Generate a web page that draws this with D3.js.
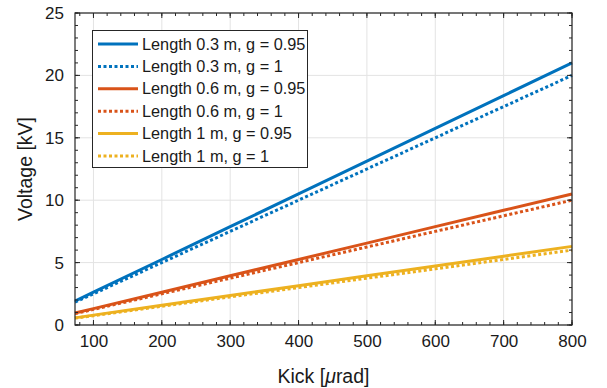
<!DOCTYPE html>
<html><head><meta charset="utf-8">
<script src="https://cdn.jsdelivr.net/npm/d3@7"></script>
<style>body{margin:0;background:#fff}svg{display:block}text{font-family:"Liberation Sans",Arial,sans-serif}</style>
</head><body><svg id="c" width="607" height="388"></svg>
<script>
const kick = [73, 100, 200, 300, 400, 500, 600, 700, 800];
const v03_095 = [1.92, 2.63, 5.25, 7.88, 10.5, 13.13, 15.75, 18.38, 21.0];
const v03_1   = [1.83, 2.5, 5.0, 7.5, 10.0, 12.5, 15.0, 17.5, 20.0];
const v06_095 = [0.96, 1.31, 2.63, 3.94, 5.25, 6.56, 7.88, 9.19, 10.5];
const v06_1   = [0.91, 1.25, 2.5, 3.75, 5.0, 6.25, 7.5, 8.75, 10.0];
const v1_095  = [0.57, 0.79, 1.58, 2.36, 3.15, 3.94, 4.73, 5.51, 6.3];
const v1_1    = [0.55, 0.75, 1.5, 2.25, 3.0, 3.75, 4.5, 5.25, 6.0];
const seriesNames = ["Length 0.3 m, g = 0.95","Length 0.3 m, g = 1","Length 0.6 m, g = 0.95","Length 0.6 m, g = 1","Length 1 m, g = 0.95","Length 1 m, g = 1"];
const seriesValues = [v03_095, v03_1, v06_095, v06_1, v1_095, v1_1];
const colors = ["#0072BD","#0072BD","#D95319","#D95319","#EDB120","#EDB120"];
const dotted = [false,true,false,true,false,true];
const xTicks = [100,200,300,400,500,600,700,800];
const yTicks = [0,5,10,15,20,25];

const svg = d3.select("#c");
const L=75, R=572, T=13, B=325;
const x = d3.scaleLinear().domain([73,800]).range([L,R]);
const y = d3.scaleLinear().domain([0,25]).range([B,T]);

// grid
const g = svg.append("g");
g.selectAll(".gx").data(xTicks).enter().append("line")
 .attr("x1",d=>x(d)).attr("x2",d=>x(d)).attr("y1",T).attr("y2",B)
 .attr("stroke","#e3e3e3").attr("stroke-width",1);
g.selectAll(".gy").data(yTicks).enter().append("line")
 .attr("x1",L).attr("x2",R).attr("y1",d=>y(d)).attr("y2",d=>y(d))
 .attr("stroke","#e3e3e3").attr("stroke-width",1);

// lines
const line = d3.line().x((d,i)=>x(kick[i])).y(d=>y(d));
const plot = svg.append("g");
seriesValues.forEach((vals,i)=>{
  plot.append("path").datum(vals).attr("d",line).attr("fill","none")
   .attr("stroke",colors[i]).attr("stroke-width",3)
   .attr("stroke-dasharray",dotted[i]?"3,2.5":null);
});

// axes
const minorX = d3.range(80,801,20);
const minorY = d3.range(0,26,1);
const ax = svg.append("g").attr("stroke","#262626");
function tickLinesX(vals,len){
  vals.forEach(v=>{
    ax.append("line").attr("x1",x(v)).attr("x2",x(v)).attr("y1",B).attr("y2",B-len);
    ax.append("line").attr("x1",x(v)).attr("x2",x(v)).attr("y1",T).attr("y2",T+len);
  });
}
function tickLinesY(vals,len){
  vals.forEach(v=>{
    ax.append("line").attr("x1",L).attr("x2",L+len).attr("y1",y(v)).attr("y2",y(v));
    ax.append("line").attr("x1",R).attr("x2",R-len).attr("y1",y(v)).attr("y2",y(v));
  });
}
tickLinesX(minorX,3); tickLinesX(xTicks,5);
tickLinesY(minorY,3); tickLinesY(yTicks,5);
svg.append("rect").attr("x",L).attr("y",T).attr("width",R-L).attr("height",B-T)
 .attr("fill","none").attr("stroke","#262626").attr("stroke-width",1.2);

// tick labels via d3 axes (lines hidden)
const xa = svg.append("g").attr("transform",`translate(0,${B})`)
 .call(d3.axisBottom(x).tickValues(xTicks).tickSize(0).tickPadding(10));
xa.select(".domain").remove();
xa.selectAll("text").attr("font-size",17).attr("fill","#1a1a1a").attr("font-family","Liberation Sans, Arial, sans-serif");
const ya = svg.append("g").attr("transform",`translate(${L},0)`)
 .call(d3.axisLeft(y).tickValues(yTicks).tickSize(0).tickPadding(11));
ya.select(".domain").remove();
ya.selectAll("text").attr("font-size",17).attr("fill","#1a1a1a").attr("font-family","Liberation Sans, Arial, sans-serif");

// axis titles
const xt = svg.append("text").attr("x",(L+R)/2).attr("y",383).attr("text-anchor","middle")
 .attr("font-size",19.5).attr("fill","#1a1a1a");
xt.append("tspan").text("Kick [");
xt.append("tspan").attr("font-style","italic").text("\u03bc");
xt.append("tspan").text("rad]");
svg.append("text").attr("transform",`translate(32,${(T+B)/2}) rotate(-90)`).attr("text-anchor","middle")
 .attr("font-size",19.5).attr("fill","#1a1a1a").text("Voltage [kV]");

// legend
const lg = svg.append("g");
lg.append("rect").attr("x",92.5).attr("y",30.5).attr("width",215).attr("height",137)
 .attr("fill","#fff").attr("stroke","#262626").attr("stroke-width",1);
seriesNames.forEach((n,i)=>{
  const yy = 44 + i*22.4;
  lg.append("line").attr("x1",98).attr("x2",138).attr("y1",yy).attr("y2",yy)
   .attr("stroke",colors[i]).attr("stroke-width",3).attr("stroke-dasharray",dotted[i]?"3,2.5":null);
  lg.append("text").attr("x",142).attr("y",yy+5.5).attr("font-size",16.3).attr("fill","#1a1a1a").text(n);
});
</script></body></html>
